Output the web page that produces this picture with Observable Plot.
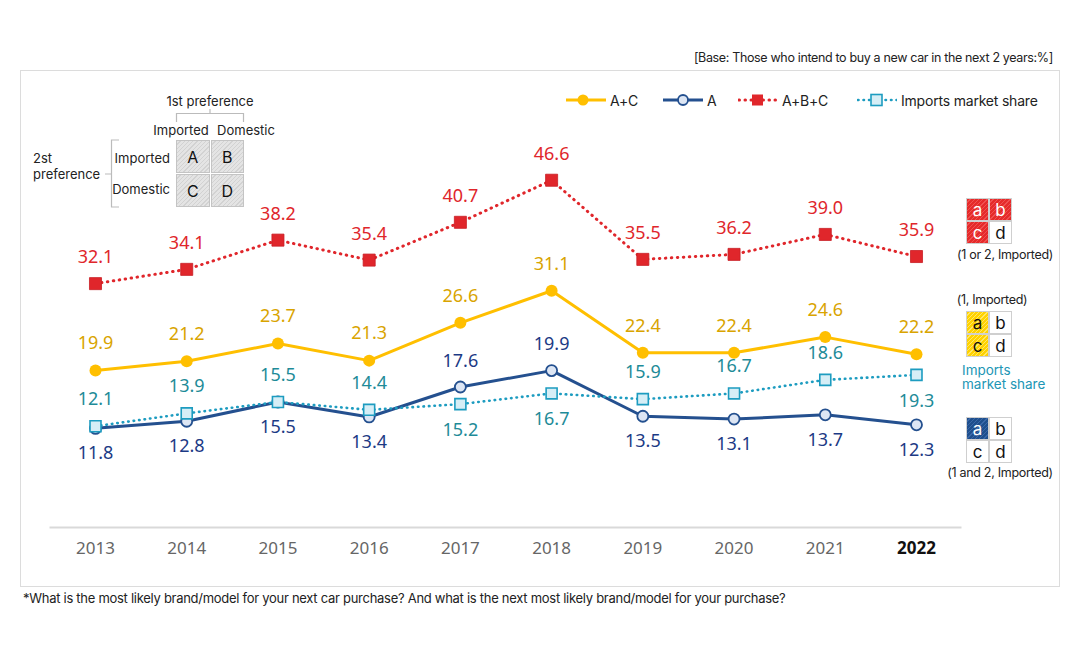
<!DOCTYPE html>
<html><head><meta charset="utf-8">
<script src="https://cdn.jsdelivr.net/npm/d3@7"></script>
<script src="https://cdn.jsdelivr.net/npm/@observablehq/plot@0.6"></script>
<style>
body{margin:0;background:#fff;font-family:Inter,"Noto Sans",sans-serif;color:#222;}
#wrap{position:relative;width:1080px;height:670px;overflow:hidden;}
#wrap svg.plot{position:absolute;left:0;top:0;}
.abs{position:absolute;white-space:nowrap;}
.frame{position:absolute;left:20px;top:70px;width:1038px;height:515px;border:1px solid #dcdcdc;pointer-events:none;}
.grid4{position:absolute;display:grid;grid-template-columns:1fr 1fr;grid-template-rows:1fr 1fr;}
.grid4 div{display:flex;align-items:center;justify-content:center;box-sizing:border-box;}
.gray div{background:repeating-linear-gradient(135deg,#e4e4e4 0 2px,#d2d2d2 2px 3px);border:1px solid #c4c4c4;font-size:16px;color:#111;}
.small div{border:1px solid #cfcfcf;background:#fff;font-size:17px;color:#111;}
.red{background:repeating-linear-gradient(135deg,#e52a2a 0 2px,#f05050 2px 3px)!important;color:#fff!important;}
.yel{background:repeating-linear-gradient(135deg,#ffd200 0 2px,#ffe766 2px 3px)!important;color:#111!important;}
.blu{background:repeating-linear-gradient(135deg,#1f4f8d 0 2px,#3a68a8 2px 3px)!important;color:#fff!important;}
.lg{position:absolute;display:flex;align-items:center;font-size:14px;color:#222;}
</style></head><body><div id="wrap"></div>
<script>
const years = [2013, 2014, 2015, 2016, 2017, 2018, 2019, 2020, 2021, 2022];
const acValues = [19.9, 21.2, 23.7, 21.3, 26.6, 31.1, 22.4, 22.4, 24.6, 22.2];
const aValues = [11.8, 12.8, 15.5, 13.4, 17.6, 19.9, 13.5, 13.1, 13.7, 12.3];
const abcValues = [32.1, 34.1, 38.2, 35.4, 40.7, 46.6, 35.5, 36.2, 39.0, 35.9];
const importsValues = [12.1, 13.9, 15.5, 14.4, 15.2, 16.7, 15.9, 16.7, 18.6, 19.3];
const seriesNames = ["A+C", "A", "A+B+C", "Imports market share"];

const mk = vals => years.map((year, i) => ({year, value: vals[i]}));
const ac = mk(acValues), a = mk(aValues), abc = mk(abcValues), imp = mk(importsValues);

const C = {
  ac: "#ffbf00", acText: "#d9a400",
  a: "#24508f", aText: "#1c3a85",
  abc: "#e0262b", abcText: "#e0262b",
  imp: "#1d9cc0", impText: "#1e8b98"
};

// label placement logic for A and imports series
const aAbove = new Set([2017, 2018]);
const impBelow = new Set([2017, 2018, 2022]);
const fmt = d => d.value.toFixed(1);
const lab = {x: "year", y: "value", text: fmt, fontSize: 18, fontFamily: "Noto Sans, sans-serif"};

const plot = Plot.plot({
  width: 1080, height: 670,
  marginLeft: 50, marginRight: 120, marginTop: 70, marginBottom: 143,
  style: {background: "transparent", overflow: "visible"},
  x: {type: "linear", domain: [2013, 2022], range: [95, 916], axis: null},
  y: {domain: [0, 50], range: [512, 155.5], axis: null},
  marks: [
    Plot.frame({anchor: "bottom", stroke: "#d9d9d9", strokeWidth: 2}),
    Plot.axisX(years.slice(0, -1), {tickSize: 0, tickPadding: 14, fontSize: 17, fill: "#666", tickFormat: d => String(d), label: null, fontFamily: "Noto Sans, sans-serif"}),
    Plot.axisX(years.slice(-1), {tickSize: 0, tickPadding: 14, fontSize: 17, fill: "#111", fontWeight: "bold", tickFormat: d => String(d), label: null, fontFamily: "Noto Sans, sans-serif"}),
    // A+B+C
    Plot.line(abc, {x: "year", y: "value", stroke: C.abc, strokeWidth: 3, strokeDasharray: "0.5 5.5", strokeLinecap: "round"}),
    Plot.dot(abc, {x: "year", y: "value", symbol: "square", r: 6.8, fill: C.abc, stroke: "#c81e24", strokeWidth: 0.8}),
    Plot.text(abc, {...lab, fill: C.abcText, dy: -26}),
    // A+C
    Plot.line(ac, {x: "year", y: "value", stroke: C.ac, strokeWidth: 3}),
    Plot.dot(ac, {x: "year", y: "value", r: 6, fill: C.ac}),
    Plot.text(ac, {...lab, fill: C.acText, dy: -27}),
    // A
    Plot.line(a, {x: "year", y: "value", stroke: C.a, strokeWidth: 3}),
    Plot.dot(a, {x: "year", y: "value", r: 5.5, fill: "#dde6f4", stroke: C.a, strokeWidth: 1.8}),
    Plot.text(a, {...lab, filter: d => !aAbove.has(d.year), fill: C.aText, dy: 25}),
    Plot.text(a, {...lab, filter: d => aAbove.has(d.year), fill: C.aText, dy: -26}),
    // Imports
    Plot.line(imp, {x: "year", y: "value", stroke: C.imp, strokeWidth: 2.6, strokeDasharray: "0.5 5", strokeLinecap: "round"}),
    Plot.dot(imp, {x: "year", y: "value", symbol: "square", r: 6.2, fill: "#d6eef6", stroke: C.imp, strokeWidth: 1.6}),
    Plot.text(imp, {...lab, filter: d => !impBelow.has(d.year), fill: C.impText, dy: -27}),
    Plot.text(imp, {...lab, filter: d => impBelow.has(d.year), fill: C.impText, dy: 26})
  ]
});
plot.classList.add("plot");
const wrap = document.getElementById("wrap");
wrap.appendChild(plot);

function add(html) { wrap.insertAdjacentHTML("beforeend", html); }
function txt(s, x, y, opts = {}) {
  const fs = opts.fs || 13, align = opts.align || "left", color = opts.color || "#222";
  const lh = opts.lh || fs * 1.4;
  let tf = "";
  if (align === "center") tf = "translateX(-50%)";
  if (align === "right") tf = "translateX(-100%)";
  add(`<div class="abs" style="left:${x}px;top:${y - lh / 2}px;font-size:${fs}px;line-height:${lh}px;color:${color};transform:${tf};${opts.extra || ""}">${s}</div>`);
}

add(`<div class="frame"></div>`);
txt("[Base: Those who intend to buy a new car in the next 2 years:%]", 1053, 58, {fs: 12.5, align: "right", extra: "letter-spacing:-0.35px;"});
txt("*What is the most likely brand/model for your next car purchase? And what is the next most likely brand/model for your purchase?", 23, 598, {fs: 13, extra: "letter-spacing:-0.28px;"});

// top legend
const sw = {
  "A+C": `<svg width="40" height="14"><line x1="0" y1="7" x2="40" y2="7" stroke="${C.ac}" stroke-width="3"/><circle cx="17" cy="7" r="5.5" fill="${C.ac}"/></svg>`,
  "A": `<svg width="40" height="14"><line x1="0" y1="7" x2="40" y2="7" stroke="${C.a}" stroke-width="3"/><circle cx="20" cy="7" r="5" fill="#dde6f4" stroke="${C.a}" stroke-width="1.8"/></svg>`,
  "A+B+C": `<svg width="40" height="14"><line x1="1" y1="7" x2="40" y2="7" stroke="${C.abc}" stroke-width="3" stroke-dasharray="0.5 5.5" stroke-linecap="round"/><rect x="14" y="1.5" width="11" height="11" fill="${C.abc}"/></svg>`,
  "Imports market share": `<svg width="40" height="14"><line x1="1" y1="7" x2="40" y2="7" stroke="${C.imp}" stroke-width="2.6" stroke-dasharray="0.5 5" stroke-linecap="round"/><rect x="14" y="1.5" width="11" height="11" fill="#d6eef6" stroke="${C.imp}" stroke-width="1.6"/></svg>`
};
const legX = [566, 663, 738, 857];
seriesNames.forEach((n, i) => {
  add(`<div class="lg" style="left:${legX[i]}px;top:90px;height:20px;">${sw[n]}<span style="margin-left:4px;letter-spacing:-0.2px">${n}</span></div>`);
});

// top-left preference matrix
txt("1st preference", 210, 101, {fs: 13, align: "center"});
add(`<svg class="abs" style="left:0;top:0;pointer-events:none" width="300" height="220">
  <path d="M176.5,122 V113.5 H243.5 V122 M210,113.5 V109" fill="none" stroke="#bbb" stroke-width="1.2"/>
  <path d="M119,140 H111.5 V207 H119 M111.5,174 H105" fill="none" stroke="#bbb" stroke-width="1.2"/>
</svg>`);
txt("Imported", 181, 130, {fs: 13, align: "center"});
txt("Domestic", 246, 130, {fs: 13, align: "center"});
txt("Imported", 170, 158, {fs: 13, align: "right"});
txt("Domestic", 170, 189, {fs: 13, align: "right"});
txt("2st", 33, 158, {fs: 13, lh: 15});
txt("preference", 33, 174, {fs: 13, lh: 15});
add(`<div class="grid4 gray" style="left:176px;top:140px;width:68px;height:67px;gap:1px;background:#fff;">
  <div>A</div><div>B</div><div>C</div><div>D</div></div>`);

// right side mini legends
function box(top, cls) {
  const l = ["a", "b", "c", "d"];
  add(`<div class="grid4 small" style="left:966px;top:${top}px;width:46px;height:46px;">` +
    l.map((s, i) => `<div class="${cls[i] || ""}">${s}</div>`).join("") + `</div>`);
}
box(198, ["red", "red", "red", ""]);
txt("(1 or 2, Imported)", 1005, 255, {fs: 12.5, align: "center", extra: "letter-spacing:-0.3px;"});
txt("(1, Imported)", 992, 300, {fs: 12.5, align: "center", extra: "letter-spacing:-0.3px;"});
box(311, ["yel", "", "yel", ""]);
add(`<div class="abs" style="left:962px;top:363px;font-size:13.5px;line-height:14px;color:#2196b5;">Imports<br>market share</div>`);
box(417, ["blu", "", "", ""]);
txt("(1 and 2, Imported)", 1000, 473, {fs: 12.5, align: "center", extra: "letter-spacing:-0.3px;"});
</script>
</body></html>
